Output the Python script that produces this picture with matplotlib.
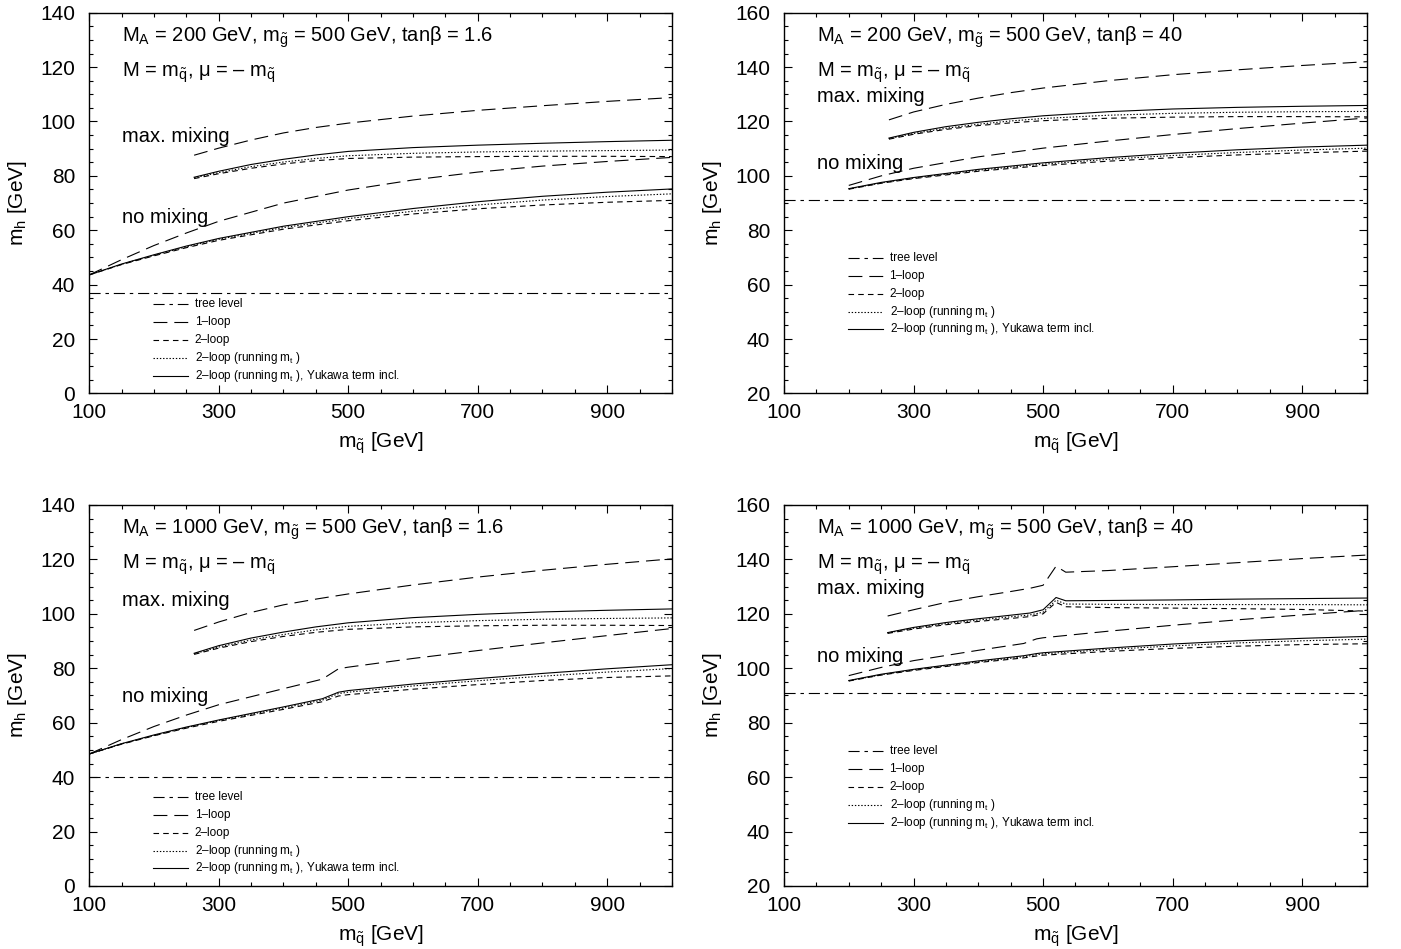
import numpy as np
import matplotlib
matplotlib.use("Agg")
import matplotlib.pyplot as plt
from matplotlib.ticker import MultipleLocator, FixedLocator

plt.rcParams['font.family'] = ['Liberation Sans', 'DejaVu Sans']
plt.rcParams['mathtext.fontset'] = 'custom'
plt.rcParams['mathtext.rm'] = 'Liberation Sans'
plt.rcParams['mathtext.it'] = 'Liberation Sans'
plt.rcParams['lines.scale_dashes'] = False

# ---- data: top left (M_A = 200, tan beta = 1.6) ----
tl_tree = 36.8
tl_x_nomix = [100, 150, 200, 250, 300, 400, 500, 600, 700, 800, 900, 1000]
tl_nomix_1loop = [43.6, 49.2, 54.4, 59.0, 63.3, 70.0, 74.8, 78.5, 81.4, 83.6, 85.3, 86.8]
tl_nomix_yuk = [43.6, 47.6, 51.0, 54.2, 57.0, 61.5, 65.0, 68.0, 70.5, 72.5, 74.0, 75.2]
tl_nomix_run = [43.6, 47.5, 50.8, 53.9, 56.7, 61.0, 64.3, 67.0, 69.3, 71.1, 72.4, 73.4]
tl_nomix_2loop = [43.6, 47.4, 50.6, 53.6, 56.3, 60.4, 63.5, 66.0, 67.9, 69.3, 70.3, 71.0]
tl_x_max = [262, 300, 350, 400, 450, 500, 600, 700, 800, 900, 1000]
tl_max_1loop = [87.6, 90.2, 93.2, 95.8, 97.8, 99.4, 102.0, 104.1, 105.8, 107.4, 108.8]
tl_max_yuk = [79.5, 81.7, 84.2, 86.1, 87.7, 89.0, 90.4, 91.3, 92.0, 92.6, 93.1]
tl_max_run = [79.3, 81.2, 83.4, 85.1, 86.4, 87.4, 88.3, 88.8, 89.1, 89.3, 89.5]
tl_max_2loop = [79.0, 80.8, 82.8, 84.4, 85.6, 86.4, 86.9, 87.1, 87.2, 87.2, 87.1]

# ---- data: top right (M_A = 200, tan beta = 40) ----
tr_tree = 91.0
tr_x_nomix = [200, 250, 300, 400, 500, 600, 700, 800, 900, 1000]
tr_nomix_1loop = [96.5, 100.0, 102.8, 107.0, 110.2, 112.8, 115.2, 117.4, 119.4, 121.3]
tr_nomix_yuk = [95.3, 97.6, 99.4, 102.4, 104.8, 106.7, 108.3, 109.6, 110.6, 111.3]
tr_nomix_run = [95.2, 97.4, 99.2, 102.1, 104.3, 106.1, 107.5, 108.6, 109.5, 110.2]
tr_nomix_2loop = [95.1, 97.3, 99.0, 101.7, 103.8, 105.4, 106.7, 107.7, 108.5, 109.1]
tr_x_max = [262, 300, 350, 400, 450, 500, 600, 700, 800, 900, 1000]
tr_max_1loop = [120.6, 123.5, 126.3, 128.6, 130.6, 132.3, 135.0, 137.2, 139.0, 140.6, 142.0]
tr_max_yuk = [113.9, 116.0, 118.1, 119.7, 121.0, 122.1, 123.6, 124.6, 125.2, 125.6, 125.9]
tr_max_run = [113.7, 115.6, 117.5, 119.0, 120.2, 121.1, 122.3, 123.0, 123.4, 123.6, 123.7]
tr_max_2loop = [113.5, 115.3, 117.1, 118.5, 119.5, 120.3, 121.2, 121.6, 121.8, 121.8, 121.7]

# ---- data: bottom left (M_A = 1000, tan beta = 1.6) ----
bl_tree = 40.0
bl_x_nomix = [100, 150, 200, 250, 300, 400, 460, 485, 500, 600, 700, 800, 900, 1000]
bl_nomix_1loop = [48.5, 53.8, 58.6, 62.8, 66.6, 72.5, 76.0, 79.8, 80.4, 83.6, 86.5, 89.3, 92.0, 94.6]
bl_nomix_yuk = [48.5, 52.3, 55.5, 58.4, 61.0, 65.8, 68.8, 71.2, 71.8, 74.2, 76.2, 78.1, 79.8, 81.3]
bl_nomix_run = [48.5, 52.2, 55.3, 58.2, 60.8, 65.4, 68.3, 70.7, 71.2, 73.5, 75.4, 77.1, 78.6, 79.9]
bl_nomix_2loop = [48.5, 52.1, 55.2, 58.0, 60.5, 64.9, 67.7, 69.8, 70.3, 72.3, 74.0, 75.5, 76.6, 77.2]
bl_x_max = [262, 300, 350, 400, 450, 500, 600, 700, 800, 900, 1000]
bl_max_1loop = [93.9, 97.0, 100.5, 103.3, 105.4, 107.3, 110.6, 113.5, 116.0, 118.2, 120.2]
bl_max_yuk = [85.5, 88.3, 91.1, 93.3, 95.2, 96.7, 98.6, 99.8, 100.7, 101.3, 101.8]
bl_max_run = [85.3, 87.8, 90.4, 92.4, 94.1, 95.4, 96.7, 97.5, 98.0, 98.3, 98.5]
bl_max_2loop = [85.1, 87.4, 89.8, 91.7, 93.2, 94.3, 95.2, 95.6, 95.8, 95.8, 95.7]

# ---- data: bottom right (M_A = 1000, tan beta = 40) ----
br_tree = 91.0
br_x_nomix = [200, 250, 300, 400, 470, 490, 500, 600, 700, 800, 900, 1000]
br_nomix_1loop = [97.3, 100.3, 102.8, 106.6, 109.1, 110.8, 111.2, 113.6, 115.8, 117.8, 119.6, 121.3]
br_nomix_yuk = [95.5, 97.8, 99.6, 102.7, 104.6, 105.4, 105.7, 107.4, 108.9, 110.1, 111.0, 111.7]
br_nomix_run = [95.4, 97.6, 99.4, 102.4, 104.2, 105.0, 105.3, 106.9, 108.2, 109.3, 110.1, 110.7]
br_nomix_2loop = [95.3, 97.5, 99.2, 102.1, 103.8, 104.5, 104.8, 106.2, 107.3, 108.1, 108.7, 109.0]
br_x_max = [260, 300, 350, 400, 450, 480, 500, 520, 535, 600, 700, 800, 900, 1000]
br_max_1loop = [119.2, 121.5, 124.2, 126.3, 128.2, 129.4, 130.5, 137.5, 135.3, 135.9, 137.3, 138.8, 140.3, 141.6]
br_max_yuk = [113.1, 115.0, 116.8, 118.2, 119.5, 120.3, 121.5, 126.0, 124.8, 124.9, 125.1, 125.4, 125.6, 125.8]
br_max_run = [113.0, 114.7, 116.4, 117.7, 118.9, 119.6, 120.6, 125.0, 123.6, 123.5, 123.4, 123.4, 123.4, 123.3]
br_max_2loop = [112.8, 114.4, 116.0, 117.2, 118.3, 119.0, 120.0, 124.2, 122.6, 122.3, 122.1, 121.9, 121.6, 121.0]

x_ticks = [100, 300, 500, 700, 900]

titles = [
    r'M$_\mathrm{A}$ = 200 GeV, m$_{\tilde{\mathrm{g}}}$ = 500 GeV, tanβ = 1.6',
    r'M$_\mathrm{A}$ = 200 GeV, m$_{\tilde{\mathrm{g}}}$ = 500 GeV, tanβ = 40',
    r'M$_\mathrm{A}$ = 1000 GeV, m$_{\tilde{\mathrm{g}}}$ = 500 GeV, tanβ = 1.6',
    r'M$_\mathrm{A}$ = 1000 GeV, m$_{\tilde{\mathrm{g}}}$ = 500 GeV, tanβ = 40',
]
subtitle = r'M = m$_{\tilde{\mathrm{q}}}$, μ = – m$_{\tilde{\mathrm{q}}}$'
legend_labels = ['tree level', '1–loop', '2–loop',
                 r'2–loop (running m$_\mathrm{t}$ )',
                 r'2–loop (running m$_\mathrm{t}$ ), Yukawa term incl.']

# line styles: tree, 1-loop, 2-loop, running, yukawa
DASHES = [(0, (8, 3.5, 2.5, 3.5)), (0, (10, 5)), (0, (4, 3)), (0, (1, 1.3)), '-']
LW = 0.8
TXT = 14.5


def setup_axes(ax, ylim):
    ax.set_xlim(100, 1000)
    ax.set_ylim(*ylim)
    ax.xaxis.set_major_locator(FixedLocator(x_ticks))
    ax.xaxis.set_minor_locator(MultipleLocator(50))
    ax.yaxis.set_major_locator(MultipleLocator(20))
    ax.yaxis.set_minor_locator(MultipleLocator(5))
    ax.tick_params(which='both', direction='in', top=True, right=True,
                   width=0.8, labelsize=15)
    ax.tick_params(which='major', length=6)
    ax.tick_params(which='minor', length=3)
    ax.tick_params(axis='y', pad=10)
    ax.tick_params(axis='x', pad=7)
    for s in ax.spines.values():
        s.set_linewidth(1.0)
    ax.set_xlabel(r'm$_{\tilde{\mathrm{q}}}$ [GeV]', fontsize=15, labelpad=6)
    ax.set_ylabel(r'm$_\mathrm{h}$ [GeV]', fontsize=15, labelpad=8)


def draw_panel(ax, tree, x_nm, nm, x_mx, mx, ylim, title, text_y, leg_y):
    setup_axes(ax, ylim)
    ax.axhline(tree, color='black', lw=LW, linestyle=DASHES[0])
    for ys, st in zip(nm, DASHES[1:]):
        ax.plot(x_nm, ys, color='black', lw=LW, linestyle=st)
    for ys, st in zip(mx, DASHES[1:]):
        ax.plot(x_mx, ys, color='black', lw=LW, linestyle=st)

    ax.text(0.057, text_y[0], title, transform=ax.transAxes, fontsize=TXT, va='center')
    ax.text(0.057, text_y[1], subtitle, transform=ax.transAxes, fontsize=TXT, va='center')
    ax.text(0.057, text_y[2], 'max. mixing', transform=ax.transAxes, fontsize=TXT, va='center')
    ax.text(0.057, text_y[3], 'no mixing', transform=ax.transAxes, fontsize=TXT, va='center')

    # hand-made legend
    for i, (lab, st) in enumerate(zip(legend_labels, DASHES)):
        y = leg_y - i * 0.047
        ax.plot([0.109, 0.169], [y, y], transform=ax.transAxes, color='black',
                lw=LW, linestyle=st)
        ax.text(0.181, y, lab, transform=ax.transAxes, fontsize=8.5, va='center')


fig = plt.figure(figsize=(14.01, 9.49), dpi=100)
ax_tl = fig.add_axes([0.0637, 0.5854, 0.4159, 0.4012])
ax_tr = fig.add_axes([0.5596, 0.5854, 0.4161, 0.4012])
ax_bl = fig.add_axes([0.0637, 0.0664, 0.4159, 0.4015])
ax_br = fig.add_axes([0.5596, 0.0664, 0.4161, 0.4015])

draw_panel(ax_tl, tl_tree, tl_x_nomix,
           [tl_nomix_1loop, tl_nomix_2loop, tl_nomix_run, tl_nomix_yuk],
           tl_x_max, [tl_max_1loop, tl_max_2loop, tl_max_run, tl_max_yuk],
           (0, 140), titles[0], [0.935, 0.843, 0.676, 0.463], 0.235)
draw_panel(ax_tr, tr_tree, tr_x_nomix,
           [tr_nomix_1loop, tr_nomix_2loop, tr_nomix_run, tr_nomix_yuk],
           tr_x_max, [tr_max_1loop, tr_max_2loop, tr_max_run, tr_max_yuk],
           (20, 160), titles[1], [0.935, 0.843, 0.781, 0.605], 0.356)
draw_panel(ax_bl, bl_tree, bl_x_nomix,
           [bl_nomix_1loop, bl_nomix_2loop, bl_nomix_run, bl_nomix_yuk],
           bl_x_max, [bl_max_1loop, bl_max_2loop, bl_max_run, bl_max_yuk],
           (0, 140), titles[2], [0.935, 0.843, 0.748, 0.496], 0.234)
draw_panel(ax_br, br_tree, br_x_nomix,
           [br_nomix_1loop, br_nomix_2loop, br_nomix_run, br_nomix_yuk],
           br_x_max, [br_max_1loop, br_max_2loop, br_max_run, br_max_yuk],
           (20, 160), titles[3], [0.935, 0.843, 0.78, 0.601], 0.354)

fig.savefig('out.png', dpi=100)
